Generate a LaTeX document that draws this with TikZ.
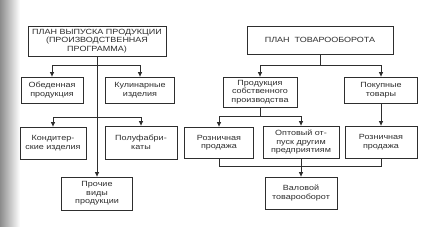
\documentclass[tikz,border=0pt]{standalone}
\usepackage{fontspec}
\setmainfont[FakeStretch=1.2]{Liberation Sans}
\usetikzlibrary{arrows.meta,calc}
\definecolor{ink}{HTML}{2E2E2E}
\begin{document}
\begin{tikzpicture}[x=1pt,y=-1pt,
  box/.style={draw=ink,line width=0.8pt,rectangle,align=center,inner sep=0pt,
    font=\fontsize{7.5}{8.6}\selectfont,text=ink},
  conn/.style={draw=ink,line width=0.8pt},
  arr/.style={conn,-{Triangle[length=4.5pt,width=4pt]}}]
\useasboundingbox (0,0) rectangle (430,227);
\fill[white] (0,0) rectangle (430,227);
\shade[left color=black!45,right color=white,draw=none] (0,0) rectangle (20,227);
% left part
\node[box,minimum width=138pt,minimum height=30pt] (A) at (97,41) {ПЛАН ВЫПУСКА ПРОДУКЦИИ\\(ПРОИЗВОДСТВЕННАЯ\\ПРОГРАММА)};
\node[box,minimum width=62pt,minimum height=26pt] (B) at (52,90) {Обеденная\\продукция};
\node[box,minimum width=69pt,minimum height=26pt] (C) at (140,90) {Кулинарные\\изделия};
\node[box,minimum width=66pt,minimum height=32pt] (D) at (53,143) {Кондитер-\\ские изделия};
\node[box,minimum width=72pt,minimum height=33pt] (E) at (141,142.5) {Полуфабри-\\каты};
\node[box,minimum width=71pt,minimum height=33pt] (F) at (97,193.5) {Прочие\\виды\\продукции};
% right part
\node[box,minimum width=146pt,minimum height=28pt] (G) at (320,40) {ПЛАН\ \ ТОВАРООБОРОТА};
\node[box,minimum width=74pt,minimum height=30pt] (H) at (260,92) {Продукция\\собственного\\производства};
\node[box,minimum width=73pt,minimum height=26pt] (I) at (381,90) {Покупные\\товары};
\node[box,minimum width=69pt,minimum height=31pt] (J) at (219,142.5) {Розничная\\продажа};
\node[box,minimum width=76pt,minimum height=32pt] (K) at (301,142) {Оптовый от-\\пуск другим\\предприятиям};
\node[box,minimum width=72pt,minimum height=32pt] (L) at (381,142) {Розничная\\продажа};
\node[box,minimum width=72pt,minimum height=32pt] (M) at (301,193) {Валовой\\товарооборот};
% coordinates
\coordinate (a1) at (97,65);
\coordinate (a2) at (97,117);
\coordinate (g1) at (320,65);
\coordinate (h1) at (260,116);
\coordinate (m1) at (301,166);
% left connectors
\draw[arr] (A.south) -- (F.north);
\draw[arr] (a1) -| (B.north);
\draw[arr] (a1) -| (C.north);
\draw[arr] (a2) -| (D.north);
\draw[arr] (a2) -| (E.north);
% right connectors
\draw[conn] (G.south) -- (g1);
\draw[arr] (g1) -| (H.north);
\draw[arr] (g1) -| (I.north);
\draw[conn] (H.south) -- (h1);
\draw[arr] (h1) -| (J.north);
\draw[arr] (h1) -| (K.north);
\draw[arr] (I.south) -- (L.north);
\draw[conn] (J.south) |- (m1);
\draw[conn] (L.south) |- (m1);
\draw[conn] (K.south) -- (m1);
\draw[arr] (m1) -- (M.north);
\end{tikzpicture}
\end{document}
